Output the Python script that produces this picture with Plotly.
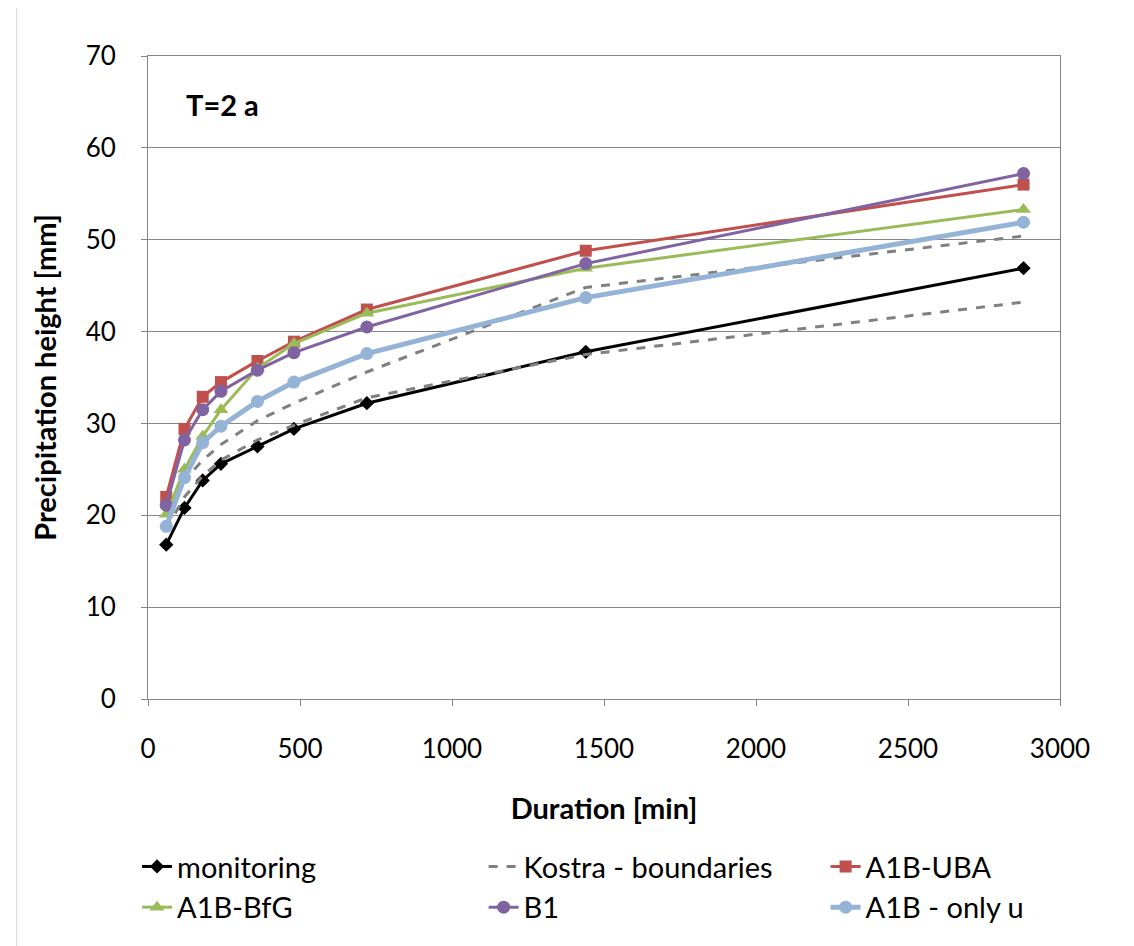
import plotly.graph_objects as go

duration = [60, 120, 180, 240, 360, 480, 720, 1440, 2880]

monitoring = [16.8, 20.8, 23.8, 25.6, 27.5, 29.4, 32.2, 37.8, 46.9]
kostra_upper = [20.0, 23.8, 26.0, 27.7, 30.3, 32.2, 35.6, 44.8, 50.4]
kostra_lower = [18.5, 22.0, 24.3, 26.0, 28.2, 29.8, 32.8, 37.5, 43.2]
a1b_uba = [22.0, 29.4, 32.9, 34.5, 36.8, 38.9, 42.4, 48.8, 56.0]
a1b_bfg = [20.1, 25.0, 28.6, 31.5, 36.0, 38.7, 42.0, 46.9, 53.3]
b1 = [21.1, 28.2, 31.5, 33.5, 35.8, 37.7, 40.5, 47.4, 57.2]
a1b_only_u = [18.8, 24.1, 27.9, 29.7, 32.4, 34.5, 37.6, 43.7, 51.9]

FONT = "Lato"
FS = 26
FS_BIG = 29

fig = go.Figure()

fig.add_trace(go.Scatter(x=duration, y=monitoring, name="monitoring", mode="lines+markers",
                         line=dict(color="#000000", width=3),
                         marker=dict(symbol="diamond", size=11, color="#000000"),
                         legend="legend"))
fig.add_trace(go.Scatter(x=duration, y=kostra_upper, name="Kostra - boundaries", mode="lines",
                         line=dict(color="#808080", width=3, dash="dash"),
                         legendgroup="kostra", legend="legend2"))
fig.add_trace(go.Scatter(x=duration, y=kostra_lower, name="Kostra - boundaries", mode="lines",
                         line=dict(color="#808080", width=3, dash="dash"),
                         legendgroup="kostra", showlegend=False, legend="legend2"))
fig.add_trace(go.Scatter(x=duration, y=a1b_uba, name="A1B-UBA", mode="lines+markers",
                         line=dict(color="#C0504D", width=3),
                         marker=dict(symbol="square", size=12, color="#C0504D"),
                         legend="legend3"))
fig.add_trace(go.Scatter(x=duration, y=a1b_bfg, name="A1B-BfG", mode="lines+markers",
                         line=dict(color="#9BBB59", width=3),
                         marker=dict(symbol="triangle-up", size=13, color="#9BBB59"),
                         legend="legend"))
fig.add_trace(go.Scatter(x=duration, y=b1, name="B1", mode="lines+markers",
                         line=dict(color="#8064A2", width=3),
                         marker=dict(symbol="circle", size=13, color="#8064A2"),
                         legend="legend2"))
fig.add_trace(go.Scatter(x=duration, y=a1b_only_u, name="A1B - only u", mode="lines+markers",
                         line=dict(color="#95B3D7", width=5),
                         marker=dict(symbol="circle", size=13, color="#95B3D7"),
                         legend="legend3"))

fig.add_annotation(text="<b>T=2 a</b>", xref="paper", yref="paper", x=0.04, y=0.925,
                   xanchor="left", yanchor="middle", showarrow=False,
                   font=dict(family=FONT, size=FS_BIG, color="#000000"))

legend_common = dict(orientation="v", y=-0.221, xanchor="left", yanchor="top",
                     font=dict(family=FONT, size=FS_BIG, color="#000000"),
                     traceorder="normal", bgcolor="rgba(0,0,0,0)")

fig.update_layout(
    width=1134, height=946,
    paper_bgcolor="white", plot_bgcolor="white",
    margin=dict(l=140, r=82, t=48, b=255),
    font=dict(family=FONT, size=FS, color="#000000"),
    showlegend=True,
    legend=dict(x=-0.012, **legend_common),
    legend2=dict(x=0.368, **legend_common),
    legend3=dict(x=0.743, **legend_common),
    xaxis=dict(range=[0, 3000], tickvals=[0, 500, 1000, 1500, 2000, 2500, 3000],
               showgrid=False, zeroline=False, showline=True, linecolor="#868686",
               linewidth=1, mirror=True, ticks="outside", ticklen=6, tickcolor="#868686",
               ticklabelstandoff=21,
               title=dict(text="<b>Duration [min]</b>", standoff=35,
                          font=dict(family=FONT, size=FS_BIG))),
    yaxis=dict(range=[0, 70], tickvals=[0, 10, 20, 30, 40, 50, 60, 70],
               showgrid=True, gridcolor="#868686", gridwidth=1, zeroline=False,
               showline=True, linecolor="#868686", linewidth=1, mirror=True,
               ticks="outside", ticklen=6, tickcolor="#868686",
               ticklabelstandoff=20,
               title=dict(text="<b>Precipitation height [mm]</b>", standoff=20,
                          font=dict(family=FONT, size=FS_BIG))),
)

fig.add_shape(type="rect", xref="paper", yref="paper", x0=-0.144, x1=1.075, y0=-0.4, y1=1.076,
              line=dict(color="#D9D9D9", width=1))

fig.write_html("out.html")
